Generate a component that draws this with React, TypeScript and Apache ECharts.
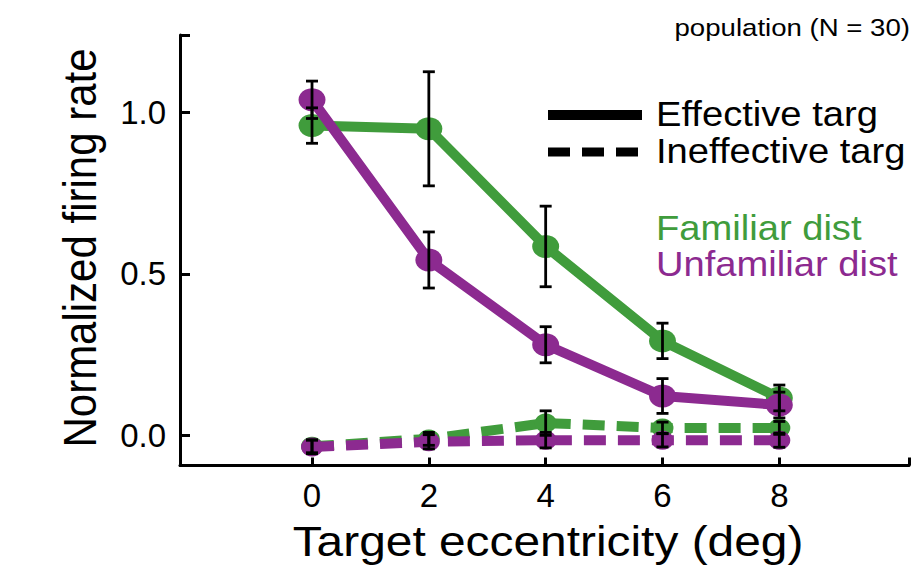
import React, { useEffect, useRef } from "react";
import * as echarts from "echarts";

const eccentricity = [0, 2, 4, 6, 8];
const familiarEffective = [0.96, 0.95, 0.585, 0.292, 0.115];
const familiarEffectiveErr = [0.055, 0.177, 0.125, 0.055, 0.04];
const unfamiliarEffective = [1.04, 0.543, 0.28, 0.121, 0.093];
const unfamiliarEffectiveErr = [0.058, 0.087, 0.056, 0.054, 0.04];
const familiarIneffective = [-0.035, -0.012, 0.037, 0.022, 0.022];
const familiarIneffectiveErr = [0.02, 0.02, 0.038, 0.018, 0.02];
const unfamiliarIneffective = [-0.037, -0.021, -0.016, -0.016, -0.016];
const unfamiliarIneffectiveErr = [0.021, 0.022, 0.024, 0.021, 0.022];
const xTickValues = [0, 2, 4, 6, 8];
const yTickValues = [0, 0.5, 1.0];

const GREEN = "#409c3c";
const PURPLE = "#8c2a90";
const FONT = "Liberation Sans, Arial, Helvetica, sans-serif";

const X_MIN = -2.26;
const X_MAX = 10.22;
const Y_MIN = -0.0946;
const Y_MAX = 1.241;

function pairs(ys: number[]) {
  return eccentricity.map((x, i) => [x, ys[i]]);
}
function errRows(ys: number[], es: number[]) {
  return eccentricity.map((x, i) => [x, ys[i] - es[i], ys[i] + es[i]]);
}

export default function App() {
  const ref = useRef<HTMLDivElement>(null);
  useEffect(() => {
    if (!ref.current) return;
    const chart = echarts.init(ref.current, undefined, { renderer: "svg" });

    const lineSeries = (name: string, ys: number[], color: string, dashed: boolean, z: number) => ({
      type: "line",
      name,
      data: pairs(ys),
      z,
      symbol: "circle",
      symbolSize: dashed ? [22, 19] : [27, 23],
      showSymbol: true,
      itemStyle: { color },
      lineStyle: { color, width: 10, type: dashed ? [22, 12] : "solid", cap: "butt" },
      emphasis: { disabled: true },
      silent: true,
    });

    const errSeries = (ys: number[], es: number[]) => ({
      type: "custom",
      data: errRows(ys, es),
      z: 10,
      silent: true,
      encode: { x: 0, y: [1, 2] },
      renderItem: (_p: any, api: any) => {
        const x = api.value(0);
        const lo = api.coord([x, api.value(1)]);
        const hi = api.coord([x, api.value(2)]);
        const hw = 6;
        const st = { stroke: "#000", lineWidth: 2.8 };
        return {
          type: "group",
          children: [
            { type: "line", shape: { x1: lo[0], y1: lo[1], x2: hi[0], y2: hi[1] }, style: st },
            { type: "line", shape: { x1: lo[0] - hw, y1: lo[1], x2: lo[0] + hw, y2: lo[1] }, style: st },
            { type: "line", shape: { x1: hi[0] - hw, y1: hi[1], x2: hi[0] + hw, y2: hi[1] }, style: st },
          ],
        };
      },
    });

    const txt = (text: string, x: number, y: number, size: number, fill: string, align: string, sx: number) => ({
      type: "text",
      x,
      y,
      scaleX: sx,
      silent: true,
      style: {
        text,
        fontSize: size,
        fontFamily: FONT,
        fill,
        textAlign: align,
        textVerticalAlign: "middle",
      },
    });

    chart.setOption({
      animation: false,
      grid: { left: 180, right: 3, top: 35, bottom: 112.5, containLabel: false },
      xAxis: {
        type: "value",
        min: X_MIN,
        max: X_MAX,
        splitLine: { show: false },
        axisLine: { show: true, onZero: false, lineStyle: { color: "#000", width: 3 } },
        axisTick: {
          show: true,
          inside: true,
          length: 8,
          customValues: [...xTickValues, X_MAX],
          lineStyle: { color: "#000", width: 3 },
        },
        axisLabel: {
          customValues: xTickValues,
          fontSize: 33,
          fontFamily: FONT,
          color: "#000",
          margin: 13,
        },
      },
      yAxis: {
        type: "value",
        min: Y_MIN,
        max: Y_MAX,
        splitLine: { show: false },
        axisLine: { show: true, onZero: false, lineStyle: { color: "#000", width: 3 } },
        axisTick: {
          show: true,
          inside: true,
          length: 10,
          customValues: [...yTickValues, Y_MAX],
          lineStyle: { color: "#000", width: 3 },
        },
        axisLabel: {
          customValues: yTickValues,
          fontSize: 33,
          fontFamily: FONT,
          color: "#000",
          margin: 14,
          formatter: (v: number) => v.toFixed(1),
        },
      },
      series: [
        lineSeries("Familiar ineffective", familiarIneffective, GREEN, true, 2),
        lineSeries("Unfamiliar ineffective", unfamiliarIneffective, PURPLE, true, 3),
        lineSeries("Familiar effective", familiarEffective, GREEN, false, 4),
        lineSeries("Unfamiliar effective", unfamiliarEffective, PURPLE, false, 5),
        errSeries(familiarIneffective, familiarIneffectiveErr),
        errSeries(unfamiliarIneffective, unfamiliarIneffectiveErr),
        errSeries(familiarEffective, familiarEffectiveErr),
        errSeries(unfamiliarEffective, unfamiliarEffectiveErr),
      ],
      graphic: [
        { type: "line", silent: true, shape: { x1: 548, y1: 115, x2: 642, y2: 115 }, style: { stroke: "#000", lineWidth: 10 } },
        { type: "line", silent: true, shape: { x1: 548, y1: 152, x2: 640, y2: 152 }, style: { stroke: "#000", lineWidth: 9, lineDash: [22, 12] } },
        txt("Effective targ", 656, 114.5, 35, "#000", "left", 1.09),
        txt("Ineffective targ", 656, 151, 35, "#000", "left", 1.09),
        txt("Familiar dist", 656, 228, 35, GREEN, "left", 1.09),
        txt("Unfamiliar dist", 656, 264, 35, PURPLE, "left", 1.09),
        txt("population (N = 30)", 910, 28, 24, "#000", "right", 1.15),
        txt("Target eccentricity (deg)", 548, 542, 42, "#000", "center", 1.14),
        {
          type: "text",
          x: 80,
          y: 248,
          rotation: Math.PI / 2,
          scaleY: 1.12,
          silent: true,
          style: {
            text: "Normalized firing rate",
            fontSize: 42,
            fontFamily: FONT,
            fill: "#000",
            textAlign: "center",
            textVerticalAlign: "middle",
          },
        },
      ],
    });
    return () => chart.dispose();
  }, []);
  return (
    <div
      ref={ref}
      style={{ position: "fixed", left: 0, top: 0, width: 912, height: 578, background: "#fff" }}
    />
  );
}
